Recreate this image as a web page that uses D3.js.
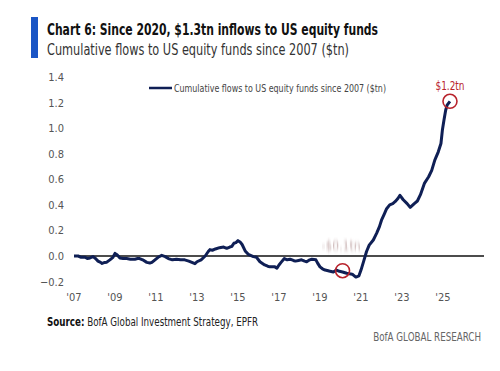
<!DOCTYPE html>
<html>
<head>
<meta charset="utf-8">
<script src="https://cdn.jsdelivr.net/npm/d3@7"></script>
<style>
  body { margin: 0; background: #fff; }
  text { font-family: "Liberation Sans Narrow", "DejaVu Sans Condensed", "Roboto", sans-serif; }
</style>
</head>
<body>
<svg id="chart" width="500" height="371"></svg>
<script>
// cumulative flows ($tn)
const years = [2007.0, 2007.2, 2007.35, 2007.54, 2007.65, 2007.78, 2007.93, 2008.05, 2008.17, 2008.3,
  2008.37, 2008.5, 2008.6, 2008.75, 2008.9, 2009.0, 2009.1, 2009.24, 2009.4, 2009.57,
  2009.75, 2009.97, 2010.1, 2010.2, 2010.35, 2010.55, 2010.7, 2010.8, 2010.95, 2011.1,
  2011.28, 2011.45, 2011.6, 2011.8, 2012.0, 2012.2, 2012.4, 2012.6, 2012.75, 2012.9,
  2013.0, 2013.2, 2013.4, 2013.55, 2013.63, 2013.75, 2013.9, 2014.1, 2014.3, 2014.45,
  2014.6, 2014.7, 2014.8, 2014.9, 2015.0, 2015.1, 2015.2, 2015.35, 2015.5, 2015.75,
  2015.9, 2016.07, 2016.3, 2016.45, 2016.56, 2016.8, 2016.9, 2017.0, 2017.1, 2017.26,
  2017.4, 2017.54, 2017.7, 2017.8, 2017.95, 2018.1, 2018.25, 2018.35, 2018.5, 2018.6,
  2018.8, 2018.9, 2019.0, 2019.12, 2019.25, 2019.4, 2019.5, 2019.65, 2019.8, 2019.95,
  2020.1, 2020.3, 2020.5, 2020.6, 2020.75, 2020.9, 2021.0, 2021.15, 2021.27, 2021.4,
  2021.6, 2021.76, 2021.9, 2022.0, 2022.14, 2022.25, 2022.4, 2022.55, 2022.66, 2022.8,
  2022.9, 2023.06, 2023.25, 2023.4, 2023.6, 2023.75, 2023.9, 2024.1, 2024.3, 2024.45,
  2024.6, 2024.77, 2024.9, 2024.97, 2025.05, 2025.13, 2025.2, 2025.34]
const flows = [0.0, 0.0, -0.01, -0.01, -0.02, -0.015, -0.005, -0.02, -0.04, -0.05,
  -0.058, -0.05, -0.048, -0.03, -0.01, 0.02, 0.01, -0.015, -0.02, -0.02,
  -0.025, -0.025, -0.02, -0.02, -0.03, -0.05, -0.055, -0.05, -0.03, -0.01,
  0.005, -0.005, -0.02, -0.03, -0.025, -0.03, -0.03, -0.04, -0.05, -0.06,
  -0.045, -0.03, 0.0, 0.035, 0.05, 0.045, 0.055, 0.065, 0.07, 0.06,
  0.07, 0.075, 0.1, 0.105, 0.12, 0.11, 0.09, 0.04, 0.013, -0.005,
  -0.01, -0.045, -0.07, -0.08, -0.085, -0.085, -0.095, -0.07, -0.05, -0.02,
  -0.03, -0.025, -0.035, -0.04, -0.035, -0.03, -0.04, -0.045, -0.03, -0.025,
  -0.03, -0.06, -0.085, -0.1, -0.11, -0.115, -0.12, -0.125, -0.11, -0.12,
  -0.125, -0.135, -0.14, -0.145, -0.165, -0.155, -0.11, -0.03, 0.035, 0.085,
  0.125, 0.177, 0.23, 0.28, 0.33, 0.37, 0.4, 0.41, 0.425, 0.45,
  0.475, 0.44, 0.41, 0.38, 0.41, 0.43, 0.48, 0.57, 0.62, 0.67,
  0.75, 0.815, 0.88, 0.985, 1.065, 1.14, 1.18, 1.21]

const yTicks = [-0.2, 0.0, 0.2, 0.4, 0.6, 0.8, 1.0, 1.2, 1.4]
const xTicks = [2007, 2009, 2011, 2013, 2015, 2017, 2019, 2021, 2023, 2025]
const xTickLabels = ["'07", "'09", "'11", "'13", "'15", "'17", "'19", "'21", "'23", "'25"]

// highlighted points
const markYears = [2020.1, 2025.34]
const markValues = [-0.115, 1.21]
const markLabels = ["-$0.1tn", "$1.2tn"]

const svg = d3.select("#chart")
const x = d3.scaleLinear().domain([2007, 2027]).range([74, 484])
const y = d3.scaleLinear().domain([0, 1.4]).range([256, 77])

// title block
svg.append("rect").attr("x", 31).attr("y", 17).attr("width", 7).attr("height", 41).attr("fill", "#1a55c5")
svg.append("text").attr("x", 47).attr("y", 35).attr("font-size", 16).attr("font-weight", "bold")
  .attr("fill", "#111").attr("textLength", 331).attr("lengthAdjust", "spacingAndGlyphs")
  .text("Chart 6: Since 2020, $1.3tn inflows to US equity funds")
svg.append("text").attr("x", 47).attr("y", 55).attr("font-size", 15)
  .attr("fill", "#333").attr("textLength", 302).attr("lengthAdjust", "spacingAndGlyphs")
  .text("Cumulative flows to US equity funds since 2007 ($tn)")

// y axis labels
svg.append("g").selectAll("text").data(yTicks).join("text")
  .attr("x", 64).attr("y", d => y(d) + 4)
  .attr("text-anchor", "end").attr("font-size", 11).attr("fill", "#555")
  .text(d => d3.format(".1f")(d))

// x axis labels
svg.append("g").selectAll("text").data(xTicks).join("text")
  .attr("x", d => x(d)).attr("y", 301)
  .attr("text-anchor", "middle").attr("font-size", 11).attr("fill", "#555")
  .text((d, i) => xTickLabels[i])

// zero line
svg.append("line").attr("x1", x(2007)).attr("x2", x(2027)).attr("y1", y(0)).attr("y2", y(0))
  .attr("stroke", "#111").attr("stroke-width", 1.3)

// legend
svg.append("line").attr("x1", 149).attr("x2", 172).attr("y1", 88).attr("y2", 88)
  .attr("stroke", "#0f1f55").attr("stroke-width", 2.5)
svg.append("text").attr("x", 174).attr("y", 92).attr("font-size", 11).attr("fill", "#444")
  .attr("textLength", 212).attr("lengthAdjust", "spacingAndGlyphs")
  .text("Cumulative flows to US equity funds since 2007 ($tn)")

// series line
const line = d3.line().x((d, i) => x(years[i])).y(d => y(d))
svg.append("path").datum(flows).attr("d", line)
  .attr("fill", "none").attr("stroke", "#0f1f55").attr("stroke-width", 3)
  .attr("stroke-linejoin", "round")

// blurred label near the 2020 low
const defs = svg.append("defs")
defs.append("filter").attr("id", "smear").append("feGaussianBlur").attr("stdDeviation", "0.7 2")

// markers
svg.append("g").selectAll("circle").data(markValues).join("circle")
  .attr("cx", (d, i) => x(markYears[i])).attr("cy", d => y(d)).attr("r", 7)
  .attr("fill", "none").attr("stroke", "#b8232c").attr("stroke-width", 1.6)

svg.append("text").attr("x", 341).attr("y", 250).attr("text-anchor", "middle")
  .attr("font-size", 12).attr("fill", "#8a5a5a").attr("opacity", 0.5)
  .attr("filter", "url(#smear)").text(markLabels[0])
svg.append("text").attr("x", x(markYears[1])).attr("y", 90).attr("text-anchor", "middle")
  .attr("font-size", 12).attr("fill", "#b8232c")
  .attr("textLength", 29).attr("lengthAdjust", "spacingAndGlyphs").text(markLabels[1])

// footer (squeezed to mimic the condensed face)
const sx = 0.81
const foot = svg.append("g").attr("transform", `scale(${sx},1)`)
const src = foot.append("text").attr("x", 47 / sx).attr("y", 326).attr("font-size", 12).attr("fill", "#222")
src.append("tspan").attr("font-weight", "bold").attr("fill", "#111").text("Source:")
src.append("tspan").text(" BofA Global Investment Strategy, EPFR")
foot.append("text").attr("x", 481 / sx).attr("y", 341).attr("text-anchor", "end").attr("font-size", 12)
  .attr("fill", "#666").text("BofA GLOBAL RESEARCH")
</script>
</body>
</html>
